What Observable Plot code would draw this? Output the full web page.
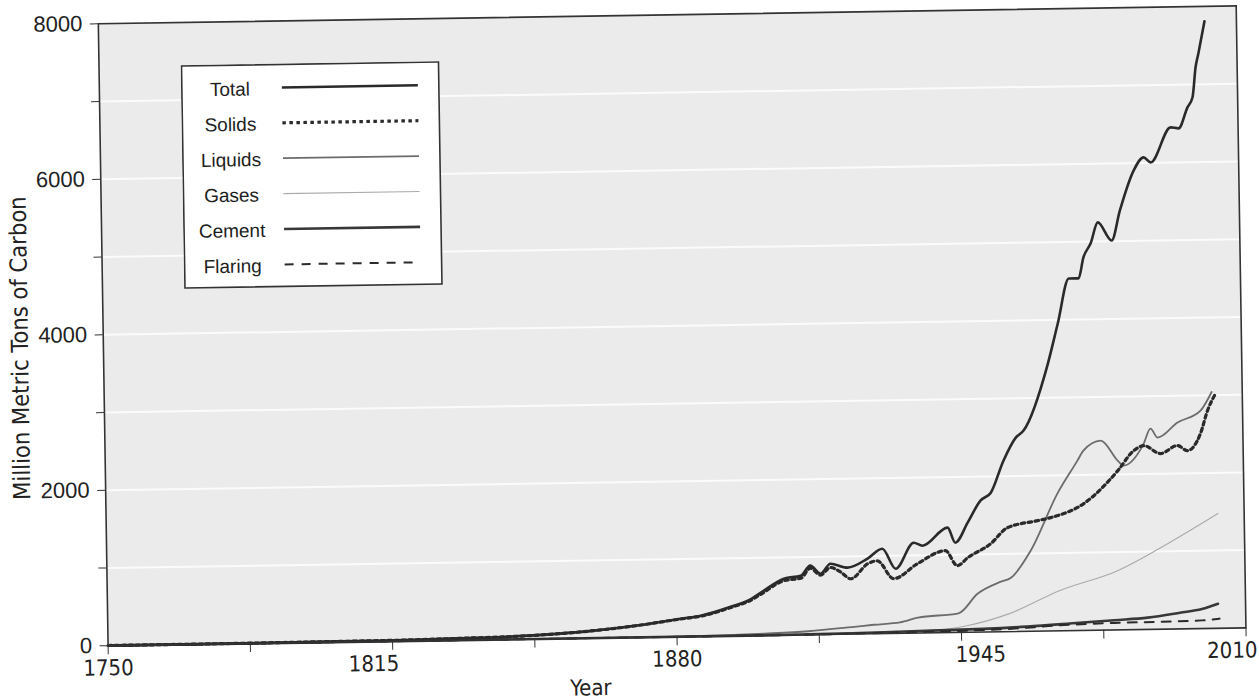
<!DOCTYPE html>
<html>
<head>
<meta charset="utf-8">
<script src="https://cdn.jsdelivr.net/npm/d3@7"></script>
<script src="https://cdn.jsdelivr.net/npm/@observablehq/plot@0.6"></script>
<style>
  html, body { margin: 0; padding: 0; background: #ffffff; }
  #wrap { position: relative; width: 1259px; height: 698px; transform: rotate(-0.9deg); transform-origin: 629.5px 349px; }
  #wrap svg.chart { position: absolute; left: 0; top: 0; }
  #legend { position: absolute; left: 185px; top: 58px; }
</style>
</head>
<body>
<div id="wrap"></div>
<script>
// ---------------- data ----------------
const seriesNames = ["Total", "Solids", "Liquids", "Gases", "Cement", "Flaring"];

const totalYears  = [1750,1760,1770,1780,1790,1800,1810,1820,1830,1840,1850,1860,1870,1880.9,1885.5,1893.1,1896.3,1899.3,1904.6,1908.5,1910.7,1913,1915.3,1919.2,1923.8,1927.2,1930.2,1934.4,1936.4,1942.2,1943.9,1946.8,1949.8,1952.2,1955.2,1958.1,1959.9,1965.7,1968.1,1970.8,1973,1974.2,1975.9,1977.6,1980.7,1982.7,1986,1988.3,1989.9,1994.6,1996.4,1998.5,1999.7,2000.5,2001.2,2002.7];
const totalValues = [3,3,3,4,6,8,10,14,24,33,54,91,147,232,266,388,449,550,726,761,888,782,909,855,967,1091,831,1162,1122,1349,1154,1409,1690,1790,2199,2493,2582,3439,3952,4529,4528,4797,4976,5245,5009,5394,5906,6071,6005,6452,6437,6705,6834,7219,7399,7810];

const solidsYears  = [1750,1760,1770,1780,1790,1800,1810,1820,1830,1840,1850,1860,1870,1880.9,1885.5,1893.1,1896.3,1899.3,1904.6,1908.5,1910.7,1913,1915.3,1917.6,1919.9,1923.8,1926,1929.7,1935.2,1941.6,1944.3,1946.7,1952,1955.9,1962.8,1965.8,1973.4,1981.3,1985,1987.3,1991.1,1995,1997.3,2000.3,2002,2003.9];
const solidsValues = [3,3,3,4,6,8,10,14,24,33,54,91,146,228,260,378,437,530,700,728,855,765,860,800,711,900,937,704,892,1053,858,959,1134,1337,1421,1457,1631,2048,2302,2364,2259,2358,2291,2507,2802,3019];

const liquidsYears  = [1750,1860,1870,1880,1890,1900,1910,1920,1925,1931,1935.1,1944.4,1948.8,1954,1956.5,1961.1,1967.4,1972.1,1973.5,1977.5,1981.3,1982.6,1987.3,1988.9,1990.5,1995.1,2000.4,2003];
const liquidsValues = [0,0,1,3,8,23,45,90,115,140,197,245,493,640,692,1036,1764,2185,2313,2438,2176,2111,2390,2582,2465,2654,2803,3040];

const gasesYears  = [1750,1880,1900,1920,1930,1940,1946,1956,1967.5,1980.9,1992.5,2004];
const gasesValues = [0,0,3,10,20,35,80,230,515,761,1100,1475];

const cementYears  = [1750,1900,1910,1920,1930,1940,1950,1960,1972,1980,1987.6,1995,2000,2003.7];
const cementValues = [0,0,5,10,20,30,40,60,99,125,151,207,250,316];

const flaringYears  = [1750,1900,1920,1950,1960,1966,1974.5,1980,1990,2000,2004];
const flaringValues = [0,0,5,25,45,66,84,90,95,105,124];

const yMajorTicks = [0, 2000, 4000, 6000, 8000];
const yMinorTicks = [1000, 3000, 5000, 7000];
const xMajorTicks = [1750, 1815, 1880, 1945, 2010];
const xMinorTicks = [1782.5, 1847.5, 1912.5, 1977.5];
const gridValues  = [1000, 2000, 3000, 4000, 5000, 6000, 7000];
const yTitle = "Million Metric Tons of Carbon";
const xTitle = "Year";

// ---------------- styles ----------------
const styles = {
  Total:   {stroke: "#2a2a2a", strokeWidth: 2.6, dash: null},
  Solids:  {stroke: "#2a2a2a", strokeWidth: 3.2, dash: "3.5,3.5"},
  Liquids: {stroke: "#6c6c6c", strokeWidth: 1.8, dash: null},
  Gases:   {stroke: "#ababab", strokeWidth: 1.2, dash: null},
  Cement:  {stroke: "#383838", strokeWidth: 2.6, dash: null},
  Flaring: {stroke: "#2a2a2a", strokeWidth: 2.0, dash: "9,8"}
};
// small horizontal nudges of individual year labels, as placed in the original figure
const xLabelNudge = {1750: 0, 1815: -19, 1880: 0, 1945: 19, 2010: -14};

// ---------------- build table ----------------
const seriesData = {
  Total:   [totalYears, totalValues],
  Solids:  [solidsYears, solidsValues],
  Liquids: [liquidsYears, liquidsValues],
  Gases:   [gasesYears, gasesValues],
  Cement:  [cementYears, cementValues],
  Flaring: [flaringYears, flaringValues]
};
const tables = {};
for (const name of seriesNames) {
  const [ys, vs] = seriesData[name];
  tables[name] = ys.map((y, i) => ({series: name, year: y, value: vs[i]}));
}

const drawOrder = ["Gases", "Liquids", "Cement", "Flaring", "Solids", "Total"];
const lineMarks = drawOrder.map(name => Plot.line(tables[name], {
  x: "year", y: "value",
  stroke: styles[name].stroke,
  strokeWidth: styles[name].strokeWidth,
  strokeDasharray: styles[name].dash,
  curve: "monotone-x",
  strokeLinejoin: "round"
}));

const narrow = "'Liberation Sans Narrow', 'DejaVu Sans Condensed', 'Liberation Sans', sans-serif";
const regular = "'Liberation Sans', Arial, Helvetica, sans-serif";

const xLabelMarks = xMajorTicks.map(t => Plot.axisX([t], {
  tickSize: 0, tickPadding: 14, tickFormat: d => String(d),
  fontSize: 22, fontFamily: narrow, label: null, dx: xLabelNudge[t] || 0
}));

const chart = Plot.plot({
  width: 1259,
  height: 698,
  marginLeft: 103,
  marginRight: 18,
  marginTop: 15,
  marginBottom: 61,
  x: {domain: [1750, 2010]},
  y: {domain: [0, 8000]},
  style: {background: "transparent", fontFamily: regular, color: "#222"},
  marks: [
    Plot.frame({fill: "#ebebeb", stroke: null}),
    Plot.ruleY(gridValues, {stroke: "#fbfbfb", strokeWidth: 2}),
    ...lineMarks,
    Plot.frame({stroke: "#333", strokeWidth: 1.6}),
    Plot.axisY(yMajorTicks, {tickSize: 8, tickPadding: 8, tickFormat: d => String(d), fontSize: 22, fontFamily: regular, label: null, stroke: "#333"}),
    Plot.axisY(yMinorTicks, {tickSize: 8, tickFormat: () => "", label: null, stroke: "#333"}),
    Plot.axisX(xMajorTicks, {tickSize: 9, tickFormat: () => "", label: null, stroke: "#333"}),
    Plot.axisX(xMinorTicks, {tickSize: 9, tickFormat: () => "", label: null, stroke: "#333"}),
    ...xLabelMarks,
    Plot.text([yTitle], {text: d => d, frameAnchor: "left", textAnchor: "middle", lineAnchor: "middle", rotate: -90, dx: -83, dy: 12, fontSize: 23.5, fontFamily: narrow, fill: "#222"}),
    Plot.text([xTitle], {text: d => d, frameAnchor: "bottom", textAnchor: "middle", lineAnchor: "middle", dx: -87, dy: 50, fontSize: 22, fontFamily: narrow, fill: "#222"})
  ]
});
chart.classList.add("chart");
const wrap = document.getElementById("wrap");
wrap.appendChild(chart);

// ---------------- legend ----------------
const legW = 259, legH = 224;
const leg = d3.select(wrap).append("svg")
  .attr("id", "legend")
  .attr("width", legW + 2)
  .attr("height", legH + 2);
leg.append("rect")
  .attr("x", 1).attr("y", 1).attr("width", legW - 2).attr("height", legH - 2)
  .attr("fill", "#ffffff").attr("stroke", "#333").attr("stroke-width", 1.6);
const rowY = i => 25 + i * 35.4;
const rows = leg.selectAll("g.row").data(seriesNames).join("g").attr("class", "row");
rows.append("text")
  .attr("x", 49).attr("y", (d, i) => rowY(i))
  .attr("text-anchor", "middle").attr("dominant-baseline", "central")
  .attr("font-family", regular).attr("font-size", 19).attr("fill", "#1e1e1e")
  .text(d => d);
rows.append("line")
  .attr("x1", 101).attr("x2", 237)
  .attr("y1", (d, i) => rowY(i) - 1).attr("y2", (d, i) => rowY(i) - 1)
  .attr("stroke", d => styles[d].stroke)
  .attr("stroke-width", d => styles[d].strokeWidth)
  .attr("stroke-dasharray", d => styles[d].dash);
</script>
</body>
</html>
